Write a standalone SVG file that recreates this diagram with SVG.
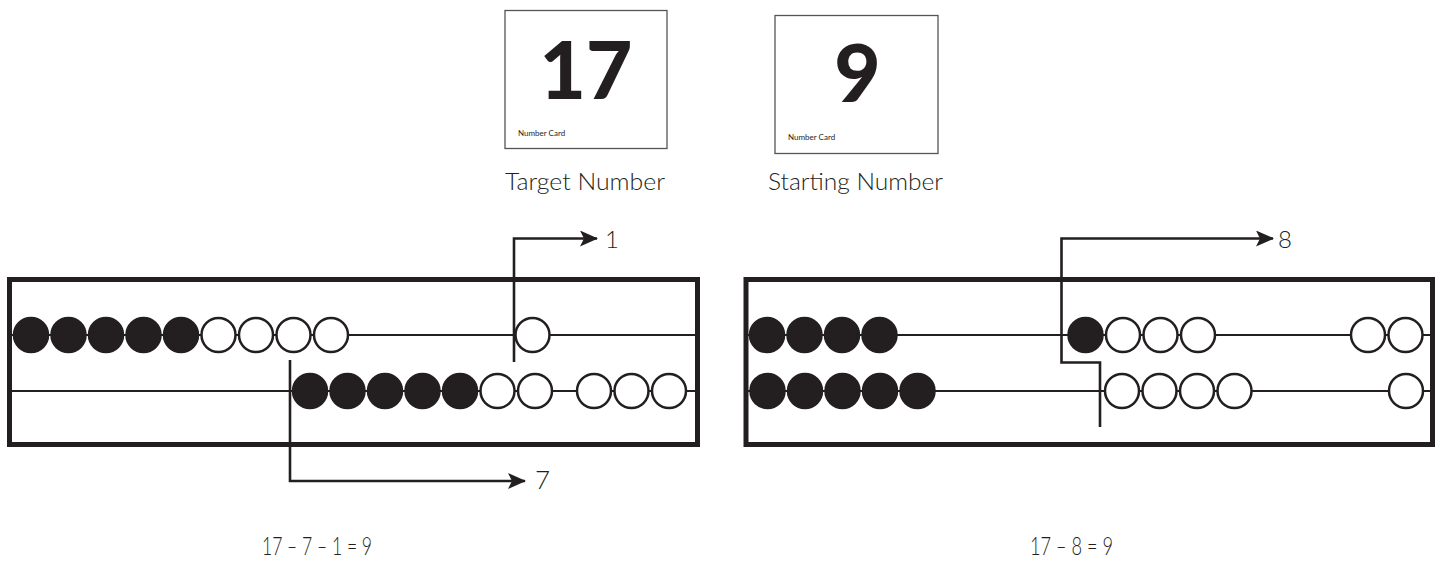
<svg xmlns="http://www.w3.org/2000/svg" width="1440" height="561" viewBox="0 0 1440 561">
<style>
.card{fill:#fff;stroke:#555;stroke-width:1.3}
.big{font-family:Lato,"Liberation Sans",sans-serif;font-weight:900;font-size:80px;fill:#231f20;text-anchor:middle}
.small{font-family:Lato,"Liberation Sans",sans-serif;font-size:8px;fill:#231f20}
.cap{font-family:Lato,"Liberation Sans",sans-serif;font-weight:300;font-size:23.5px;fill:#231f20}
.lbl{font-family:Lato,"Liberation Sans",sans-serif;font-weight:300;font-size:24px;fill:#231f20}
.eq{font-family:Lato,"Liberation Sans",sans-serif;font-weight:300;font-size:25px;fill:#231f20}
.frame{fill:#fff;stroke:#231f20;stroke-width:5}
.rod{stroke:#231f20;stroke-width:2.2;fill:none}
.f{fill:#231f20;stroke:#231f20;stroke-width:2.5}
.h{fill:#fff;stroke:#231f20;stroke-width:2.5}
.con{fill:none;stroke:#231f20;stroke-width:2.6}
</style>
<defs>
<marker id="ah" markerUnits="userSpaceOnUse" markerWidth="18" markerHeight="16" refX="17" refY="8" orient="auto">
<path d="M0,0 L18,8 L0,16 L4,8 z" fill="#231f20"/>
</marker>
</defs>
<rect width="1440" height="561" fill="#fff"/>
<g id="card-target">
<rect class="card" x="505" y="10.5" width="162" height="138"/>
<text class="big" x="586" y="99">17</text>
<text class="small" x="518" y="136">Number Card</text>
<text class="cap" x="505" y="190" textLength="160" lengthAdjust="spacingAndGlyphs">Target Number</text>
</g>
<g id="card-starting">
<rect class="card" x="775" y="15.5" width="163" height="138"/>
<text class="big" x="857.5" y="102">9</text>
<text class="small" x="788" y="140">Number Card</text>
<text class="cap" x="768" y="190" textLength="175" lengthAdjust="spacingAndGlyphs">Starting Number</text>
</g>
<g id="rekenrek-left">
<rect class="frame" x="9.5" y="279.5" width="688" height="165"/>
<line class="rod" x1="12" y1="335" x2="695" y2="335"/>
<line class="rod" x1="12" y1="391" x2="695" y2="391"/>
<circle class="f" cx="31" cy="335" r="17"/>
<circle class="f" cx="68.5" cy="335" r="17"/>
<circle class="f" cx="106" cy="335" r="17"/>
<circle class="f" cx="143.5" cy="335" r="17"/>
<circle class="f" cx="181" cy="335" r="17"/>
<circle class="h" cx="218.5" cy="335" r="17"/>
<circle class="h" cx="256" cy="335" r="17"/>
<circle class="h" cx="293.5" cy="335" r="17"/>
<circle class="h" cx="331" cy="335" r="17"/>
<circle class="h" cx="532.5" cy="335" r="17"/>
<circle class="f" cx="310" cy="391" r="17"/>
<circle class="f" cx="347.5" cy="391" r="17"/>
<circle class="f" cx="385" cy="391" r="17"/>
<circle class="f" cx="422.5" cy="391" r="17"/>
<circle class="f" cx="460" cy="391" r="17"/>
<circle class="h" cx="497.5" cy="391" r="17"/>
<circle class="h" cx="535" cy="391" r="17"/>
<circle class="h" cx="594" cy="391" r="17"/>
<circle class="h" cx="631.5" cy="391" r="17"/>
<circle class="h" cx="669" cy="391" r="17"/>
</g>
<g id="rekenrek-right">
<rect class="frame" x="746" y="279.5" width="686.5" height="165"/>
<line class="rod" x1="748" y1="335" x2="1430" y2="335"/>
<line class="rod" x1="748" y1="391" x2="1430" y2="391"/>
<circle class="f" cx="767" cy="335" r="17"/>
<circle class="f" cx="804.5" cy="335" r="17"/>
<circle class="f" cx="842" cy="335" r="17"/>
<circle class="f" cx="879.5" cy="335" r="17"/>
<circle class="f" cx="1085.5" cy="335" r="17"/>
<circle class="h" cx="1123" cy="335" r="17"/>
<circle class="h" cx="1160.5" cy="335" r="17"/>
<circle class="h" cx="1198" cy="335" r="17"/>
<circle class="h" cx="1368" cy="335" r="17"/>
<circle class="h" cx="1405.5" cy="335" r="17"/>
<circle class="f" cx="767.5" cy="391" r="17"/>
<circle class="f" cx="805" cy="391" r="17"/>
<circle class="f" cx="842.5" cy="391" r="17"/>
<circle class="f" cx="880" cy="391" r="17"/>
<circle class="f" cx="917.5" cy="391" r="17"/>
<circle class="h" cx="1122" cy="391" r="17"/>
<circle class="h" cx="1159.5" cy="391" r="17"/>
<circle class="h" cx="1197" cy="391" r="17"/>
<circle class="h" cx="1234.5" cy="391" r="17"/>
<circle class="h" cx="1406" cy="391" r="17"/>
</g>
<g id="connectors">
<polyline class="con" points="514,362 514,238.5 597,238.5" marker-end="url(#ah)"/>
<polyline class="con" points="290,360 290,481 525,481" marker-end="url(#ah)"/>
<polyline class="con" points="1100,427 1100,362.5 1061.5,362.5 1061.5,238.5 1273,238.5" marker-end="url(#ah)"/>
</g>
<g id="labels">
<text class="lbl" x="605" y="248">1</text>
<text class="lbl" x="535" y="489" style="font-size:26px">7</text>
<text class="lbl" x="1278" y="248">8</text>
<text class="eq" x="262" y="555" textLength="110" lengthAdjust="spacingAndGlyphs">17 – 7 – 1 = 9</text>
<text class="eq" x="1030" y="555" textLength="83" lengthAdjust="spacingAndGlyphs">17 – 8 = 9</text>
</g>
</svg>
